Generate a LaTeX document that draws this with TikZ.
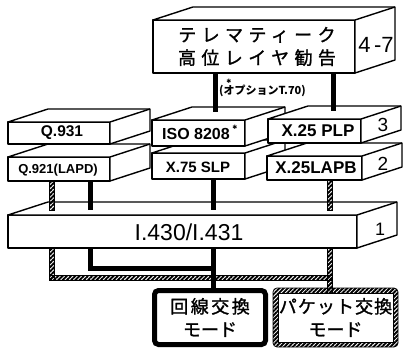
\documentclass[tikz,border=0pt]{standalone}
\usepackage{fontspec}
\setmainfont{Liberation Sans}
\newfontfamily\jp{Noto Sans CJK JP}[FakeBold=1.2]
\newfontfamily\jpb{Noto Sans CJK JP}
\newfontfamily\sym{DejaVu Sans}
\usetikzlibrary{patterns.meta,calc}
\tikzset{
  face/.style={draw=black,fill=white,line width=1.4pt,line join=round},
  frontbox/.style={face,rectangle,inner sep=0pt,outer sep=0pt,anchor=north west},
  lbl/.style={inner sep=0pt},
  pillar/.style={line width=5pt,draw=black},
  hatch/.style={pattern={Lines[angle=45,distance=3pt,line width=1.9pt]},draw=black,line width=0.7pt},
}
\newcommand\mkcube[5]{%
  \node[frontbox,minimum width={(#4-#2)*1pt},minimum height={(#5-#3)*1pt}] (#1) at (#2,#3) {};
  \filldraw[face] (#1.north west) -- ([shift={(40pt,13pt)}]#1.north west)
     -- ([shift={(40pt,13pt)}]#1.north east) -- ([shift={(40pt,13pt)}]#1.south east)
     -- (#1.south east) -- (#1.north east) -- cycle;
  \draw[face] (#1.north east) -- ([shift={(40pt,13pt)}]#1.north east);
}
\begin{document}
\begin{tikzpicture}[x=1pt,y=-1pt]
\useasboundingbox (0,0) rectangle (403,347);
% layer 1
\mkcube{l1}{8}{215}{357}{248}
\node[lbl,font=\fontsize{23}{23}\selectfont] (t1) at (189,232) {I.430/I.431};
\node[lbl,font=\fontsize{18}{18}\selectfont] (n1) at (380,229) {1};
% pillars layer 2 -> layer 1
\coordinate (c52) at (52,210);
\coordinate (c90) at (90,210);
\coordinate (c213) at (213,210);
\coordinate (c330) at (330,210);
% layer 2
\mkcube{q921}{8}{157}{110}{181}
\mkcube{x75}{152}{153}{245}{179}
\mkcube{lapb}{267}{156}{362}{180}
\path[hatch] ($(q921.south -| c52)+(-2.5,0)$) rectangle ($(c52)+(2.5,0)$);
\path[hatch] ($(lapb.south -| c330)+(-2.5,0)$) rectangle ($(c330)+(2.5,0)$);
\draw[pillar] (q921.south -| c90) -- (c90);
\draw[pillar] (x75.south -| c213) -- (c213);
\node[lbl,font=\bfseries\fontsize{13}{13}\selectfont] (t921) at (58,170) {Q.921(LAPD)};
\node[lbl,font=\bfseries\fontsize{15}{15}\selectfont] (t75) at (198,167) {X.75 SLP};
\node[lbl,font=\bfseries\fontsize{17}{17}\selectfont] (tlapb) at (316,168) {X.25LAPB};
\node[lbl,font=\fontsize{19}{19}\selectfont] (n2) at (383,164) {2};
% layer 3
\mkcube{q931}{8}{122}{110}{144}
\mkcube{iso}{152}{120}{245}{146}
\mkcube{plp}{268}{119}{361}{143}
\node[lbl,font=\bfseries\fontsize{15.5}{15.5}\selectfont] (t931) at (62,133) {Q.931};
\node[lbl,font=\bfseries\fontsize{16}{16}\selectfont] (tiso) at (196,134) {ISO 8208};
\node[lbl,font=\sym\fontsize{6}{6}\selectfont] (st2) at (235,127) {✱};
\node[lbl,font=\bfseries\fontsize{17}{17}\selectfont] (tplp) at (318,131) {X.25 PLP};
\node[lbl,font=\fontsize{19}{19}\selectfont] (n3) at (383,125) {3};
% top box and its pillars
\coordinate (c215) at (215,112);
\coordinate (c333) at (333,111);
\mkcube{top}{153}{20}{355}{73}
\draw[pillar] (top.south -| c215) -- (c215);
\draw[pillar] (top.south -| c333) -- (c333);
\node[lbl,font=\jp\fontsize{18}{23}\selectfont\addfontfeature{LetterSpace=30},align=center] (ttop) at ([xshift=3pt]top.center) {テレマティーク\\高位レイヤ勧告};
\node[lbl,font=\fontsize{22}{22}\selectfont] (n47) at (376,45) {4\,-7};
\node[lbl,font=\sym\fontsize{6}{6}\selectfont] (st1) at (229,81) {✱};
\node[lbl,font=\jpb\bfseries\fontsize{11}{11}\selectfont,anchor=west] (opt) at (219,91) {(オプションT.70)};
% bottom boxes
\path[hatch,rounded corners=4pt] (273,288) rectangle (398,347);
\node[draw=black,fill=white,line width=0.7pt,inner sep=0pt,outer sep=0pt,anchor=north west,
  minimum width=115pt,minimum height=49pt,align=center,
  font=\jp\fontsize{18}{23}\selectfont] (pkt) at (278,293)
  {{\addfontfeature{LetterSpace=6}パケット交換}\\モード};
\node[draw=black,fill=white,line width=5pt,rounded corners=4pt,inner sep=0pt,outer sep=0pt,
  anchor=north west,minimum width=111pt,minimum height=54pt,align=center,
  font=\jp\fontsize{18}{23}\selectfont] (cir) at (154.5,290.5)
  {{\addfontfeature{LetterSpace=14}回線交換}\\モード};
% lines below layer 1
\coordinate (k52) at (52,278);
\coordinate (k213) at (213,268);
\path[hatch] ($(l1.south -| c52)+(-2.5,0)$) rectangle ($(k52)+(2.5,2.5)$);
\path[hatch] ($(k52)+(-2.5,-2.5)$) rectangle ($(k52 -| c330)+(2.5,2.5)$);
\path[hatch] ($(l1.south -| c330)+(-2.5,0)$) rectangle ($(pkt.north -| c330)+(2.5,0)$);
\draw[pillar] (l1.south -| c90) |- (k213);
\draw[pillar] (l1.south -| c213) -- (cir.north -| c213);
\end{tikzpicture}
\end{document}
